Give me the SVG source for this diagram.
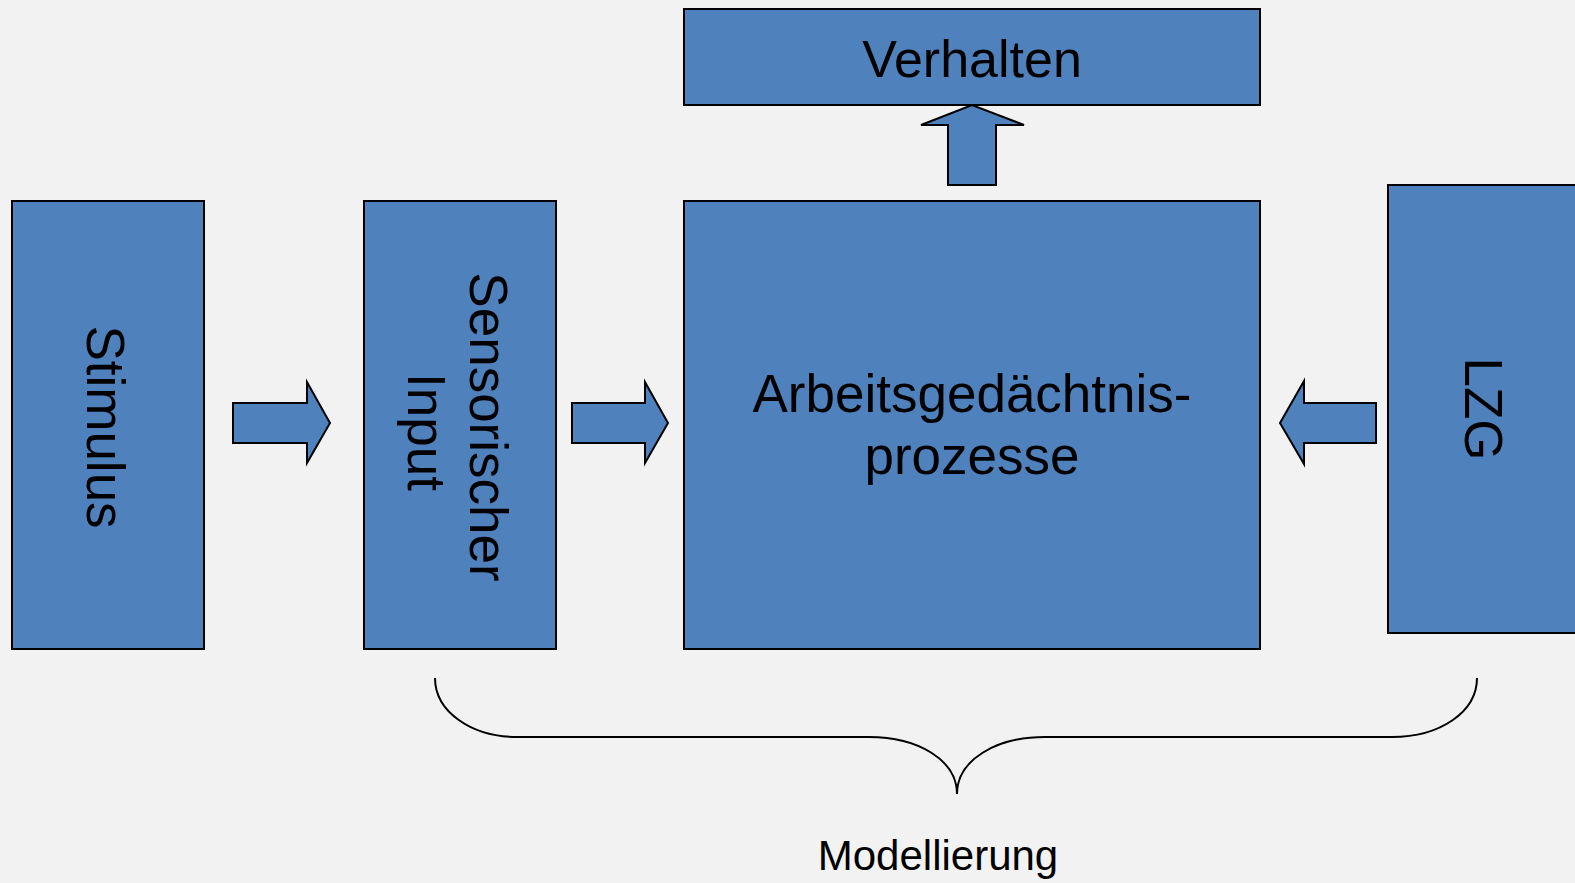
<svg xmlns="http://www.w3.org/2000/svg" width="1575" height="883" viewBox="0 0 1575 883">
  <style>
    .box { fill: #4f81bd; stroke: #000; stroke-width: 2; }
    .arrow { fill: #4f81bd; stroke: #000; stroke-width: 2; stroke-linejoin: miter; }
    .label { font-family: "Liberation Sans", Arial, sans-serif; font-size: 53px; fill: #000; text-anchor: middle; }
    .brace { fill: none; stroke: #000; stroke-width: 2; }
    .caption { font-family: "Liberation Sans", Arial, sans-serif; font-size: 42px; fill: #000; text-anchor: middle; }
  </style>
  <rect width="1575" height="883" fill="#f2f2f2"/>

  <g id="stimulus">
    <rect class="box" x="12" y="201" width="192" height="448"/>
    <text class="label" transform="translate(87,427) rotate(90)">Stimulus</text>
  </g>

  <g id="sensorischer-input">
    <rect class="box" x="364" y="201" width="192" height="448"/>
    <text class="label" transform="translate(470,427) rotate(90)">Sensorischer</text>
    <text class="label" transform="translate(408,432) rotate(90)">Input</text>
  </g>

  <g id="arbeitsgedaechtnis">
    <rect class="box" x="684" y="201" width="576" height="448"/>
    <text class="label" x="972" y="412">Arbeitsgedächtnis-</text>
    <text class="label" x="972" y="474">prozesse</text>
  </g>

  <g id="verhalten">
    <rect class="box" x="684" y="9" width="576" height="96"/>
    <text class="label" x="972" y="77" style="font-size:52px">Verhalten</text>
  </g>

  <g id="lzg">
    <rect class="box" x="1388" y="185" width="200" height="448"/>
    <text class="label" transform="translate(1465,409) rotate(90)">LZG</text>
  </g>

  <g id="connectors">
    <!-- Stimulus to sensory input -->
    <polygon class="arrow" points="233,403 307,403 307,382 330,423 307,463 307,443 233,443"/>
    <!-- Sensory input to working memory -->
    <polygon class="arrow" points="572,403 645,403 645,382 668,423 645,463 645,443 572,443"/>
    <!-- Long-term memory to working memory -->
    <polygon class="arrow" points="1376,403 1304,403 1304,381 1280,423 1304,464 1304,443 1376,443"/>
    <!-- Working memory to behaviour -->
    <polygon class="arrow" points="948,185 948,125 921,125 972,105 1024,125 996,125 996,185"/>
  </g>

  <g id="modellierung">
    <path class="brace" d="M435,678 C435,712 472,737 517,737 L869,737 C918,737 957,760 957,794 C957,760 996,737 1045,737 L1392,737 C1440,737 1477,712 1477,678"/>
    <text class="caption" x="938" y="870">Modellierung</text>
  </g>
</svg>
